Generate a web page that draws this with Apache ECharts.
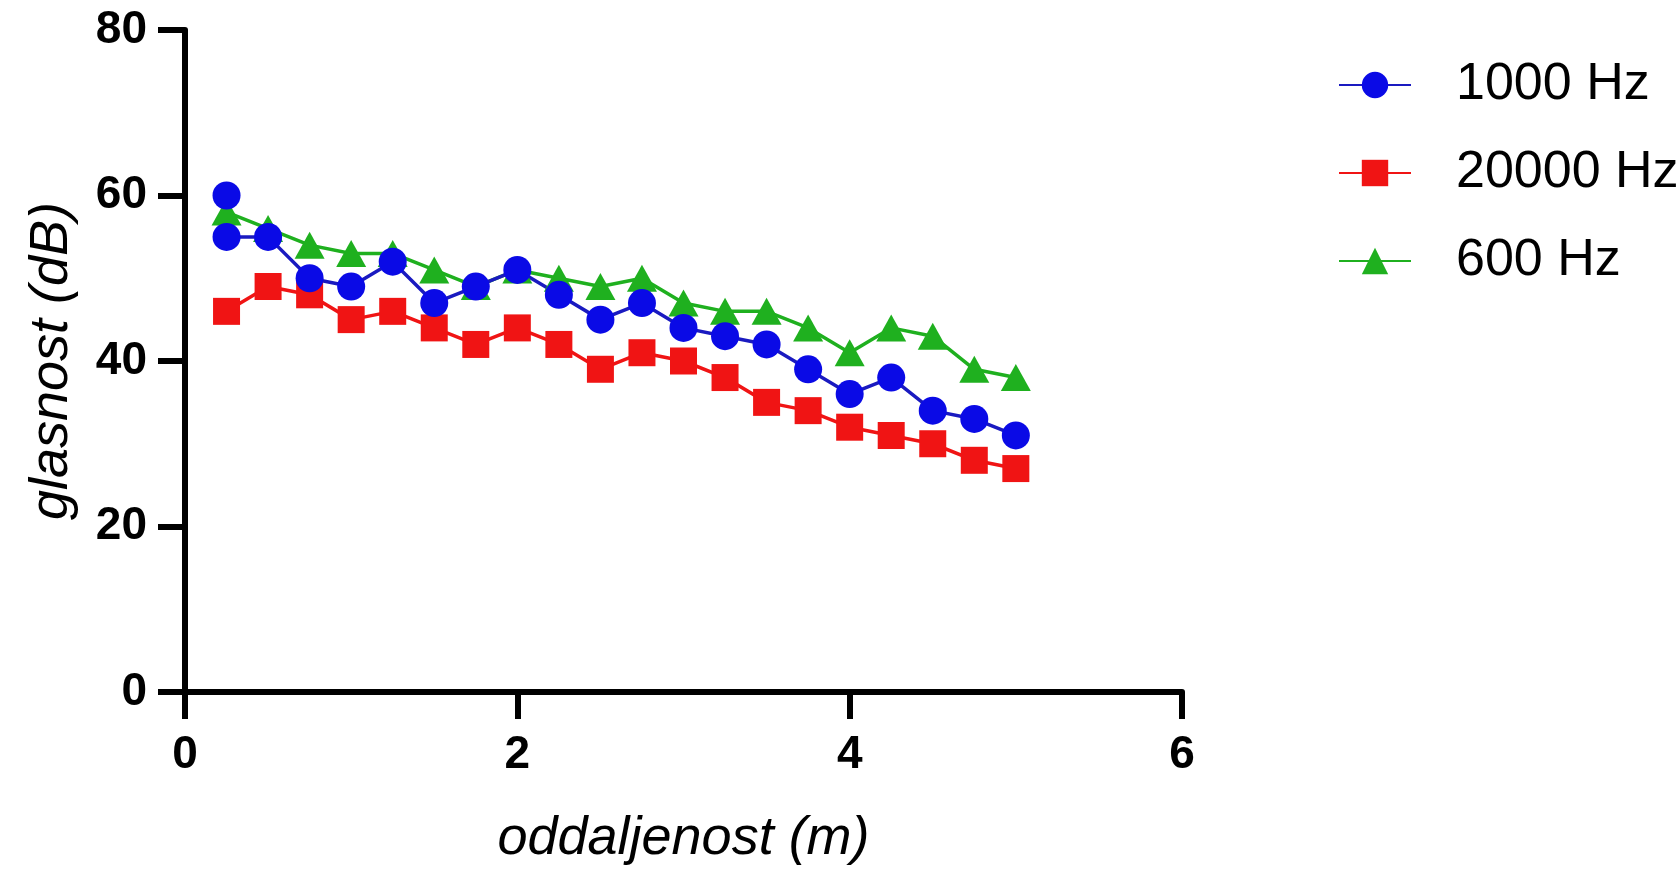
<!DOCTYPE html>
<html>
<head>
<meta charset="utf-8">
<script src="https://cdn.jsdelivr.net/npm/echarts@6/dist/echarts.min.js"></script>
<style>
html,body{margin:0;padding:0;background:#fff;}
#chart{width:1680px;height:871px;}
</style>
</head>
<body>
<div id="chart"></div>
<script>
// Data
var distances = [0.25,0.5,0.75,1.0,1.25,1.5,1.75,2.0,2.25,2.5,2.75,3.0,3.25,3.5,3.75,4.0,4.25,4.5,4.75,5.0];
var blueDistances = [0.25,0.25,0.5,0.75,1.0,1.25,1.5,1.75,2.0,2.25,2.5,2.75,3.0,3.25,3.5,3.75,4.0,4.25,4.5,4.75,5.0];
var hz1000 = [60,55,55,50,49,52,47,49,51,48,45,47,44,43,42,39,36,38,34,33,31];
var hz20000 = [46,49,48,45,46,44,42,44,42,39,41,40,38,35,34,32,31,30,28,27];
var hz600 = [58,56,54,53,53,51,49,51,50,49,50,47,46,46,44,41,44,43,39,38];
var seriesNames = ['1000 Hz','20000 Hz','600 Hz'];
var xTicks = [0,2,4,6];
var yTicks = [0,20,40,60,80];
var xTitle = 'oddaljenost (m)';
var yTitle = 'glasnost (dB)';

function pairs(xs, ys){ return ys.map(function(v,i){ return [xs[i], v]; }); }

var FONT = "'Liberation Sans', Arial, Helvetica, sans-serif";
var chart = echarts.init(document.getElementById('chart'), null, {renderer:'canvas'});

function axisCommon(){
  return {
    axisLine:{show:true, onZero:false, lineStyle:{color:'#000', width:6}},
    axisTick:{show:true, inside:false, length:27, lineStyle:{color:'#000', width:6}},
    splitLine:{show:false},
    axisLabel:{color:'#000', fontFamily:FONT, fontWeight:'bold', fontSize:46},
    nameTextStyle:{color:'#000', fontFamily:FONT, fontStyle:'italic', fontSize:54}
  };
}

var xAxis = axisCommon();
xAxis.type = 'value';
xAxis.min = xTicks[0];
xAxis.max = xTicks[xTicks.length-1];
xAxis.interval = xTicks[1]-xTicks[0];
xAxis.name = xTitle;
xAxis.nameLocation = 'middle';
xAxis.nameGap = 120;
xAxis.axisLabel.margin = 40;

var yAxis = axisCommon();
yAxis.type = 'value';
yAxis.min = yTicks[0];
yAxis.max = yTicks[yTicks.length-1];
yAxis.interval = yTicks[1]-yTicks[0];
yAxis.name = yTitle;
yAxis.nameLocation = 'middle';
yAxis.nameGap = 106;
yAxis.nameRotate = 90;
yAxis.axisLabel.margin = 38;

var colBlue = '#0a0ae6', colRed = '#f01414', colGreen = '#1fb01f';

chart.setOption({
  animation:false,
  backgroundColor:'#fff',
  grid:{left:185, right:498, top:30, bottom:177, containLabel:false},
  xAxis:xAxis,
  yAxis:yAxis,
  legend:{
    data:seriesNames,
    orient:'vertical',
    left:1333,
    top:50,
    itemWidth:72,
    itemHeight:33,
    itemGap:28,
    textStyle:{color:'#000', fontFamily:FONT, fontSize:52, lineHeight:60, padding:[0,0,0,40]}
  },
  series:[
    {name:seriesNames[2], type:'line', data:pairs(distances,hz600), symbol:'triangle', symbolSize:[30,27],
     itemStyle:{color:colGreen}, lineStyle:{color:colGreen, width:3.5}},
    {name:seriesNames[1], type:'line', data:pairs(distances,hz20000), symbol:'rect', symbolSize:27,
     itemStyle:{color:colRed}, lineStyle:{color:colRed, width:3.5}},
    {name:seriesNames[0], type:'line', data:pairs(blueDistances,hz1000), symbol:'circle', symbolSize:28,
     itemStyle:{color:colBlue}, lineStyle:{color:'#1a1ac0', width:3.5}}
  ]
});
</script>
</body>
</html>
